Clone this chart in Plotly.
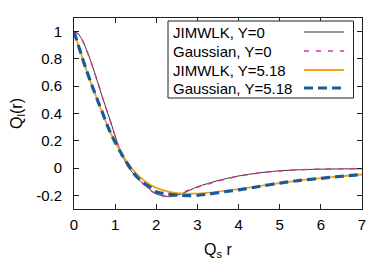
import plotly.graph_objects as go

# ---- data ----
r_y0 = [0, 0.1, 0.2, 0.3, 0.4, 0.5, 0.6, 0.7, 0.8, 0.9, 1.0, 1.1, 1.2, 1.3, 1.4, 1.5,
        1.6, 1.7, 1.8, 1.9, 2.0, 2.1, 2.2, 2.3, 2.4, 2.5, 2.6, 2.8, 3.0, 3.2, 3.4, 3.7,
        4.0, 4.5, 5.0, 5.5, 6.0, 6.5, 7.0]
jimwlk_y0 = [1.0, 0.985, 0.94, 0.87, 0.79, 0.70, 0.605, 0.51, 0.42, 0.33, 0.235, 0.145,
             0.075, 0.02, -0.025, -0.06, -0.09, -0.12, -0.145, -0.17, -0.19, -0.2, -0.207,
             -0.21, -0.208, -0.2, -0.19, -0.165, -0.137, -0.118, -0.1, -0.077,
             -0.058, -0.035, -0.02, -0.012, -0.008, -0.006, -0.005]
gauss_y0 = [1.0, 0.985, 0.94, 0.87, 0.79, 0.70, 0.605, 0.51, 0.42, 0.33, 0.235, 0.145,
            0.075, 0.02, -0.025, -0.06, -0.09, -0.12, -0.148, -0.172, -0.19, -0.2, -0.205,
            -0.205, -0.2, -0.192, -0.183, -0.16, -0.14, -0.122, -0.104, -0.08,
            -0.06, -0.036, -0.021, -0.013, -0.008, -0.006, -0.005]

r_y518 = [0, 0.1, 0.2, 0.3, 0.4, 0.5, 0.6, 0.7, 0.8, 0.9, 1.0, 1.1, 1.2, 1.3, 1.4, 1.5,
          1.6, 1.7, 1.8, 1.9, 2.0, 2.2, 2.4, 2.6, 2.8, 3.0, 3.3, 3.7, 4.0, 4.5, 5.0,
          5.5, 6.0, 6.5, 7.0]
jimwlk_y518 = [1.0, 0.905, 0.81, 0.72, 0.635, 0.555, 0.475, 0.4, 0.32, 0.25, 0.19, 0.135,
               0.085, 0.04, 0.0, -0.035, -0.065, -0.09, -0.11, -0.13, -0.145, -0.165,
               -0.178, -0.186, -0.188, -0.187, -0.18, -0.165, -0.155, -0.133, -0.11,
               -0.09, -0.073, -0.06, -0.047]
gauss_y518 = [1.0, 0.905, 0.81, 0.72, 0.635, 0.555, 0.475, 0.4, 0.32, 0.25, 0.19, 0.135,
              0.08, 0.03, -0.015, -0.055, -0.085, -0.11, -0.13, -0.148, -0.175, -0.187,
              -0.195, -0.2, -0.202, -0.2, -0.19, -0.172, -0.16, -0.135, -0.11,
              -0.09, -0.075, -0.06, -0.047]

series_names = ["JIMWLK, Y=0", "Gaussian, Y=0", "JIMWLK, Y=5.18", "Gaussian, Y=5.18"]
x_tick_vals = [0, 1, 2, 3, 4, 5, 6, 7]
x_tick_text = ["0", "1", "2", "3", "4", "5", "6", "7"]
y_tick_vals = [-0.2, 0, 0.2, 0.4, 0.6, 0.8, 1.0]
y_tick_text = ["-0.2", "0", "0.2", "0.4", "0.6", "0.8", "1"]

# ---- styles ----
colors = ["#333333", "#e0309c", "#f2a11a", "#1a5a9a"]
widths = [1.0, 1.5, 1.8, 3.2]
dashes = ["solid", "5px,7px", "solid", "9px,5px"]
FONT = "Liberation Sans, Arial, Helvetica, sans-serif"

fig = go.Figure()
data = [(r_y0, jimwlk_y0), (r_y0, gauss_y0), (r_y518, jimwlk_y518), (r_y518, gauss_y518)]
for i, (xs, ys) in enumerate(data):
    fig.add_trace(go.Scatter(x=xs, y=ys, mode="lines", name=series_names[i],
                             line=dict(color=colors[i], width=widths[i], dash=dashes[i],
                                       shape="spline", smoothing=0.6),
                             showlegend=False))

axis_common = dict(showline=True, linecolor="#202020", linewidth=1, mirror="ticks",
                   ticks="inside", ticklen=5, tickcolor="#202020", showgrid=False,
                   zeroline=False, automargin=False,
                   tickfont=dict(family=FONT, size=15, color="#000"))

fig.update_xaxes(range=[0, 7], tickvals=x_tick_vals, ticktext=x_tick_text,
                 ticklabelstandoff=2,
                 title=dict(text="Q<sub>s</sub> r", font=dict(family=FONT, size=16, color="#000"),
                            standoff=11),
                 **axis_common)
fig.update_yaxes(range=[-0.3, 1.1], tickvals=y_tick_vals, ticktext=y_tick_text,
                 ticklabelstandoff=8,
                 title=dict(text="Q<sub>l</sub>(r)", font=dict(family=FONT, size=16, color="#000"),
                            standoff=9),
                 **axis_common)

# ---- gnuplot-style legend (text left, sample right) ----
lx0, lx1, ly0, ly1 = 0.3264, 0.9705, 0.5812, 0.9843
fig.add_shape(type="rect", xref="paper", yref="paper", x0=lx0, x1=lx1, y0=ly0, y1=ly1,
              line=dict(color="#202020", width=1), fillcolor="white", layer="above")
rows = [0.9267, 0.8272, 0.7277, 0.6335]
for i, name in enumerate(series_names):
    fig.add_annotation(xref="paper", yref="paper", x=0.3385, y=rows[i], text=name,
                       showarrow=False, xanchor="left", yanchor="middle",
                       font=dict(family=FONT, size=15, color="#000"))
    fig.add_shape(type="line", xref="paper", yref="paper", x0=0.7986, x1=0.9375,
                  y0=rows[i], y1=rows[i], layer="above",
                  line=dict(color=colors[i], width=widths[i], dash=dashes[i]))

fig.update_layout(width=390, height=273, margin=dict(l=74, r=28, t=18, b=64),
                  paper_bgcolor="white", plot_bgcolor="white",
                  font=dict(family=FONT, size=15, color="#000"))

fig.write_html("out.html", config={"displayModeBar": False},
               post_script="document.body.style.margin='0';")
